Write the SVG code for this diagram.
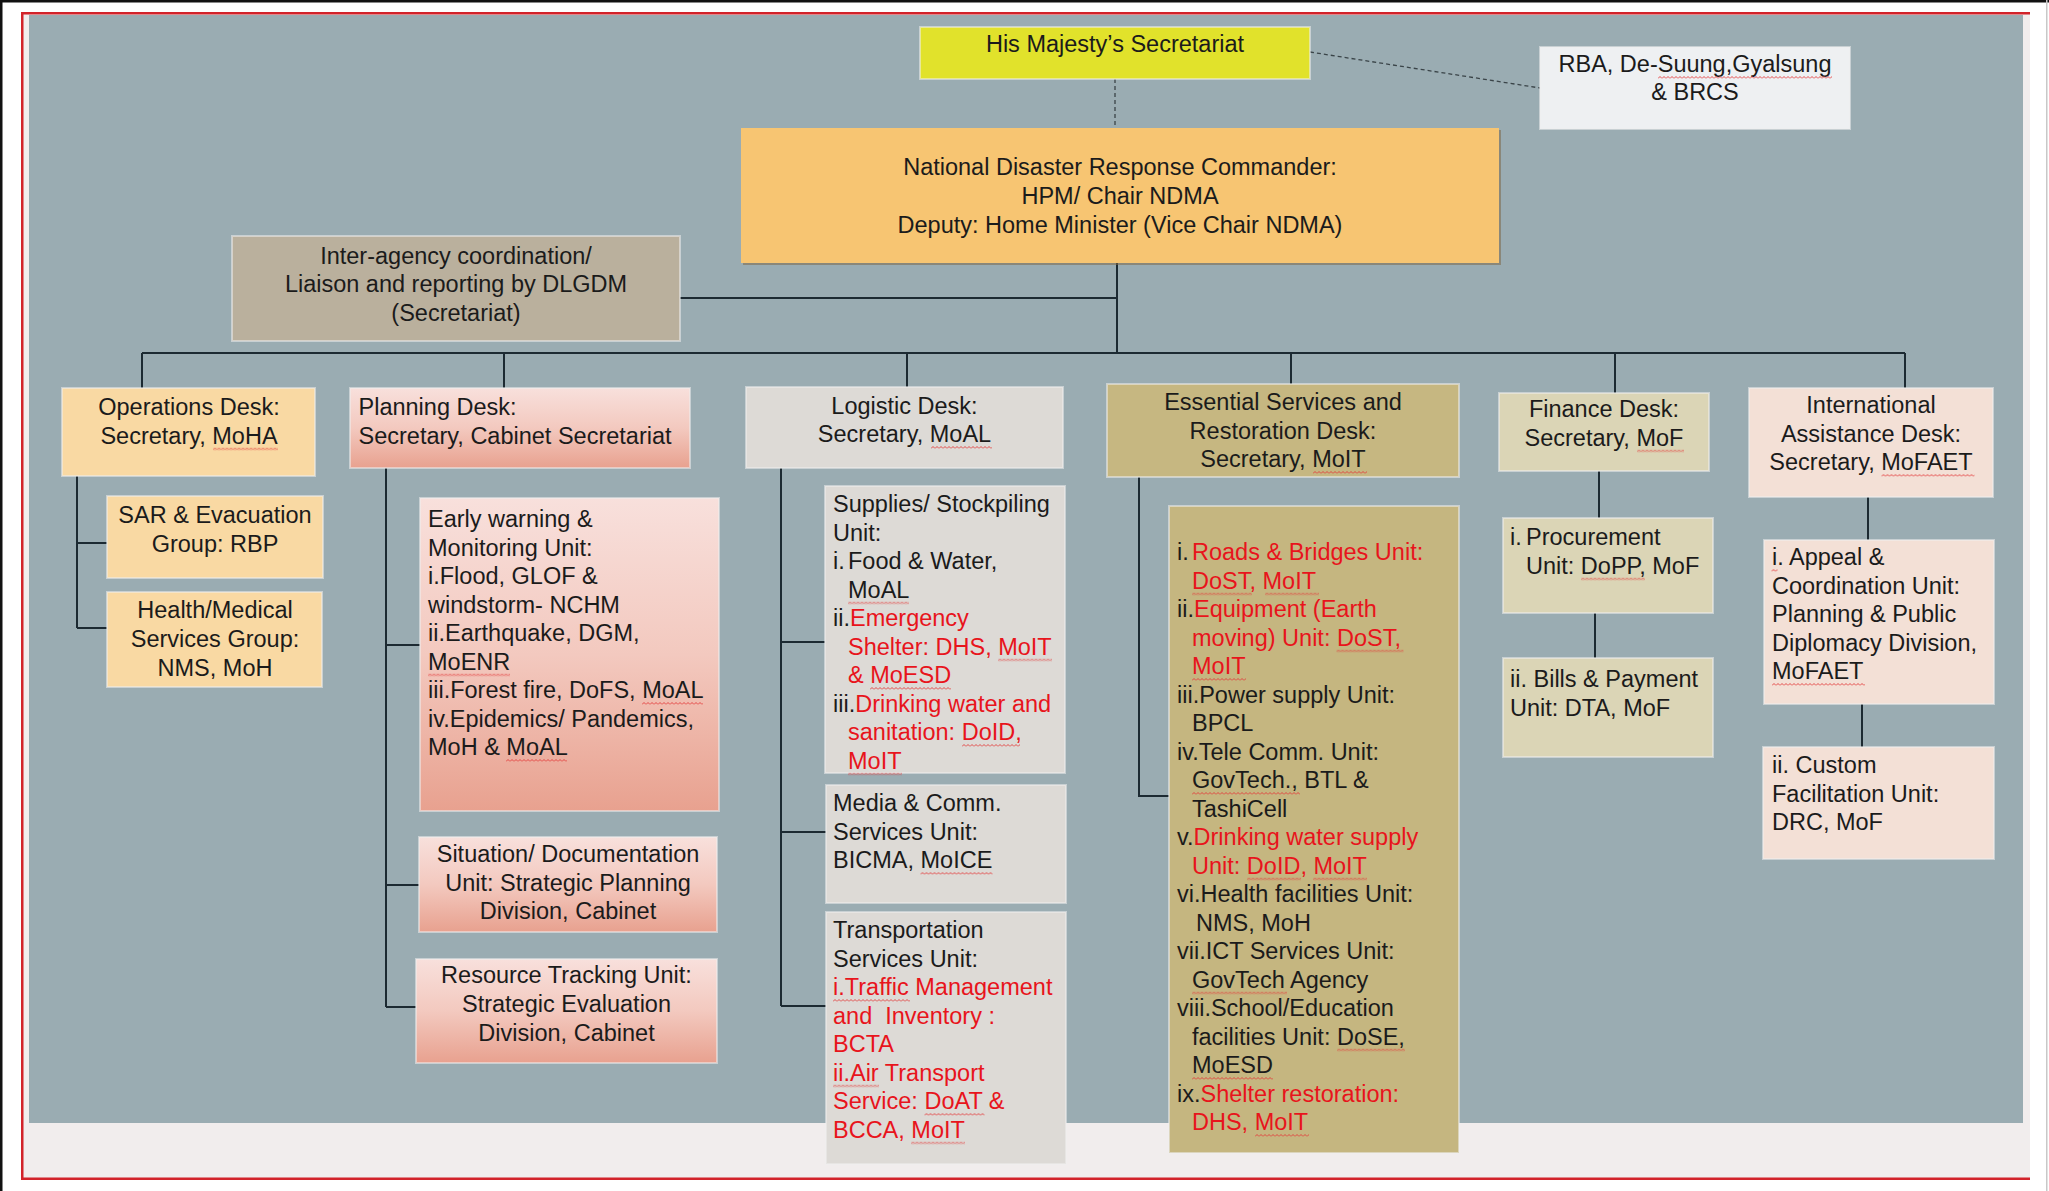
<svg xmlns="http://www.w3.org/2000/svg" width="2049" height="1191" viewBox="0 0 2049 1191">
<defs>
<style>
text{font-family:"Liberation Sans",Arial,sans-serif;font-size:23.5px;fill:#1b1b1b}
.m{text-anchor:middle}
.r{fill:#e8141c}
.bx{stroke:#eeeeee;stroke-opacity:.55;stroke-width:2}
.ln{stroke:#1c2a32;stroke-width:2;fill:none}
.dl{stroke:#3a4448;stroke-width:1.3;stroke-dasharray:4 3;fill:none}
.wv{fill:url(#wv)}
</style>
<pattern id="wv" patternUnits="userSpaceOnUse" width="4" height="3">
<path d="M0,2.5 L2,0.5 L4,2.5" fill="none" stroke="#e33a3a" stroke-width="0.9"/>
</pattern>
<linearGradient id="pink" x1="0" y1="0" x2="0" y2="1">
<stop offset="0" stop-color="#f8e0dc"/>
<stop offset="0.5" stop-color="#f3c9bf"/>
<stop offset="1" stop-color="#e8a18f"/>
</linearGradient>
</defs>
<rect width="2049" height="1191" fill="#ffffff"/>
<rect x="0" y="0" width="2049" height="2.5" fill="#111"/>
<rect x="0" y="0" width="2.5" height="1191" fill="#111"/>
<rect x="2046" y="0" width="1.5" height="1191" fill="#c8c8c8"/>
<rect x="21" y="12" width="2009" height="1168" fill="#f1eded"/>
<rect x="21" y="12" width="2009" height="2.5" fill="#d2232a"/>
<rect x="21" y="12" width="2.5" height="1168" fill="#d2232a"/>
<rect x="21" y="1177.5" width="2009" height="2.5" fill="#d2232a"/>
<rect x="29" y="15" width="1994" height="1108" fill="#9aacb2"/>

<g id="connectors">
<line class="dl" x1="1115" y1="79" x2="1115" y2="128"/>
<line class="dl" x1="1310" y1="52" x2="1540" y2="88"/>
<path class="ln" d="M1117,263 V353 M680,298 H1117 M142,353 H1905"/>
<path class="ln" d="M142,353 V388 M504,353 V388 M907,353 V387 M1291,353 V384 M1615,353 V393 M1905,353 V388"/>
<path class="ln" d="M77,476 V628 M77,543 H107 M77,628 H107"/>
<path class="ln" d="M386,468 V1007 M386,645 H420 M386,885 H419 M386,1007 H424"/>
<path class="ln" d="M781,468 V1006 M781,642 H825 M781,832 H826 M781,1006 H826"/>
<path class="ln" d="M1139,477 V796 H1169"/>
<path class="ln" d="M1599,471 V518 M1595,613 V658"/>
<path class="ln" d="M1868,497 V540 M1862,704 V747"/>
</g>

<g id="hm">
<rect class="bx" x="920" y="27" width="390" height="52" fill="#e1e22b"/>
<text class="m" x="1115" y="52">His Majesty’s Secretariat</text>
</g>
<g id="rba">
<rect class="bx" x="1540" y="47" width="310" height="82" fill="#eef0f2"/>
<text class="m" x="1695" y="72">RBA, De-Suung,Gyalsung</text>
<text class="m" x="1695" y="100">&amp; BRCS</text>
<rect class="wv" width="174" height="3" transform="translate(1658,76)"/>
</g>
<g id="ndrc">
<rect x="743" y="130" width="758" height="135" fill="#7d6a4a" opacity="0.55"/>
<rect x="741" y="128" width="758" height="135" fill="#f7c572"/>
<text class="m" x="1120" y="175">National Disaster Response Commander:</text>
<text class="m" x="1120" y="204">HPM/ Chair NDMA</text>
<text class="m" x="1120" y="233">Deputy: Home Minister (Vice Chair NDMA)</text>
</g>
<g id="interagency">
<rect class="bx" x="232" y="236" width="448" height="105" fill="#bab09d"/>
<text class="m" x="456" y="263.5">Inter-agency coordination/</text>
<text class="m" x="456" y="292">Liaison and reporting by DLGDM</text>
<text class="m" x="456" y="320.5">(Secretariat)</text>
</g>

<g id="ops">
<rect class="bx" x="62" y="388" width="253" height="88" fill="#f9d9a3"/>
<text class="m" x="189" y="415">Operations Desk:</text>
<text class="m" x="189" y="443.5">Secretary, MoHA</text>
<rect class="wv" width="65" height="3" transform="translate(213,447.5)"/>
</g>
<g id="sar">
<rect class="bx" x="107" y="496" width="216" height="82" fill="#f9d9a3"/>
<text class="m" x="215" y="523">SAR &amp; Evacuation</text>
<text class="m" x="215" y="551.5">Group: RBP</text>
</g>
<g id="health">
<rect class="bx" x="107" y="592" width="215" height="95" fill="#f9d9a3"/>
<text class="m" x="215" y="618">Health/Medical</text>
<text class="m" x="215" y="647">Services Group:</text>
<text class="m" x="215" y="676">NMS, MoH</text>
</g>

<g id="planning">
<rect class="bx" x="350" y="388" width="340" height="80" fill="url(#pink)"/>
<text x="358.5" y="415">Planning Desk:</text>
<text x="358.5" y="443.5">Secretary, Cabinet Secretariat</text>
</g>
<g id="earlywarning">
<rect class="bx" x="420" y="498" width="299" height="313" fill="url(#pink)"/>
<text x="428" y="527">Early warning &amp;</text>
<text x="428" y="555.5">Monitoring Unit:</text>
<text x="428" y="584">i.Flood, GLOF &amp;</text>
<text x="428" y="612.5">windstorm- NCHM</text>
<text x="428" y="641">ii.Earthquake, DGM,</text>
<text x="428" y="669.5">MoENR</text>
<text x="428" y="698">iii.Forest fire, DoFS, MoAL</text>
<text x="428" y="726.5">iv.Epidemics/ Pandemics,</text>
<text x="428" y="755">MoH &amp; MoAL</text>
<rect class="wv" width="82" height="3" transform="translate(428,673.5)"/>
<rect class="wv" width="61" height="3" transform="translate(642,702)"/>
<rect class="wv" width="61" height="3" transform="translate(506,759)"/>
</g>
<g id="situation">
<rect class="bx" x="419" y="837" width="298" height="95" fill="url(#pink)"/>
<text class="m" x="568" y="862">Situation/ Documentation</text>
<text class="m" x="568" y="890.5">Unit: Strategic Planning</text>
<text class="m" x="568" y="919">Division, Cabinet</text>
</g>
<g id="resource">
<rect class="bx" x="416" y="959" width="301" height="104" fill="url(#pink)"/>
<text class="m" x="566.5" y="983">Resource Tracking Unit:</text>
<text class="m" x="566.5" y="1012">Strategic Evaluation</text>
<text class="m" x="566.5" y="1040.5">Division, Cabinet</text>
</g>

<g id="logistic">
<rect class="bx" x="746" y="387" width="317" height="81" fill="#dddad6"/>
<text class="m" x="904.5" y="413.5">Logistic Desk:</text>
<text class="m" x="904.5" y="442">Secretary, MoAL</text>
<rect class="wv" width="61" height="3" transform="translate(931,446)"/>
</g>
<g id="supplies">
<rect class="bx" x="825" y="486" width="240" height="287" fill="#dddad6"/>
<text x="833" y="512">Supplies/ Stockpiling</text>
<text x="833" y="540.5">Unit:</text>
<text x="833" y="569">i.</text><text x="848" y="569">Food &amp; Water,</text>
<text x="848" y="597.5">MoAL</text>
<text x="833" y="626">ii.<tspan class="r">Emergency</tspan></text>
<text class="r" x="848" y="654.5">Shelter: DHS, MoIT</text>
<text class="r" x="848" y="683">&amp; MoESD</text>
<text x="833" y="711.5">iii.<tspan class="r">Drinking water and</tspan></text>
<text class="r" x="848" y="740">sanitation: DoID,</text>
<text class="r" x="848" y="768.5">MoIT</text>
<rect class="wv" width="61" height="3" transform="translate(848,601.5)"/>
<rect class="wv" width="54" height="3" transform="translate(998,658.5)"/>
<rect class="wv" width="81" height="3" transform="translate(870,687)"/>
<rect class="wv" width="58" height="3" transform="translate(962,744)"/>
<rect class="wv" width="54" height="3" transform="translate(848,772.5)"/>
</g>
<g id="media">
<rect class="bx" x="826" y="785" width="240" height="118" fill="#dddad6"/>
<text x="833" y="811">Media &amp; Comm.</text>
<text x="833" y="839.5">Services Unit:</text>
<text x="833" y="868">BICMA, MoICE</text>
<rect class="wv" width="72" height="3" transform="translate(920.5,872)"/>
</g>
<g id="transport">
<rect class="bx" x="826" y="912" width="240" height="252" fill="#dddad6"/>
<text x="833" y="938">Transportation</text>
<text x="833" y="966.5">Services Unit:</text>
<text class="r" x="833" y="995">i.Traffic Management</text>
<text class="r" x="833" y="1023.5">and&#160; Inventory :</text>
<text class="r" x="833" y="1052">BCTA</text>
<text class="r" x="833" y="1080.5">ii.Air Transport</text>
<text class="r" x="833" y="1109">Service: DoAT &amp;</text>
<text class="r" x="833" y="1137.5">BCCA, MoIT</text>
<rect class="wv" width="77" height="3" transform="translate(833,999)"/>
<rect class="wv" width="46" height="3" transform="translate(833,1084.5)"/>
<rect class="wv" width="60" height="3" transform="translate(924.5,1113)"/>
<rect class="wv" width="54" height="3" transform="translate(911,1141.5)"/>
</g>

<g id="essential">
<rect class="bx" x="1107" y="384" width="352" height="93" fill="#c6b781"/>
<text class="m" x="1283" y="410">Essential Services and</text>
<text class="m" x="1283" y="438.5">Restoration Desk:</text>
<text class="m" x="1283" y="467">Secretary, MoIT</text>
<rect class="wv" width="54" height="3" transform="translate(1313,471)"/>
</g>
<g id="essentialunits">
<rect class="bx" x="1169" y="506" width="290" height="647" fill="#c5b680"/>
<text x="1177" y="560">i.</text><text class="r" x="1192" y="560">Roads &amp; Bridges Unit:</text>
<text class="r" x="1192" y="588.5">DoST, MoIT</text>
<text x="1177" y="617">ii.<tspan class="r">Equipment (Earth</tspan></text>
<text class="r" x="1192" y="645.5">moving) Unit: DoST,</text>
<text class="r" x="1192" y="674">MoIT</text>
<text x="1177" y="702.5">iii.Power supply Unit:</text>
<text x="1192" y="731">BPCL</text>
<text x="1177" y="759.5">iv.Tele Comm. Unit:</text>
<text x="1192" y="788">GovTech., BTL &amp;</text>
<text x="1192" y="816.5">TashiCell</text>
<text x="1177" y="845">v.<tspan class="r">Drinking water supply</tspan></text>
<text class="r" x="1192" y="873.5">Unit: DoID, MoIT</text>
<text x="1177" y="902">vi.Health facilities Unit:</text>
<text x="1196" y="930.5">NMS, MoH</text>
<text x="1177" y="959">vii.ICT Services Unit:</text>
<text x="1192" y="987.5">GovTech Agency</text>
<text x="1177" y="1016">viii.School/Education</text>
<text x="1192" y="1044.5">facilities Unit: DoSE,</text>
<text x="1192" y="1073">MoESD</text>
<text x="1177" y="1101.5">ix.<tspan class="r">Shelter restoration:</tspan></text>
<text class="r" x="1192" y="1130">DHS, MoIT</text>
<rect class="wv" width="60" height="3" transform="translate(1192,592.5)"/>
<rect class="wv" width="54" height="3" transform="translate(1265,592.5)"/>
<rect class="wv" width="67" height="3" transform="translate(1336.5,649.5)"/>
<rect class="wv" width="54" height="3" transform="translate(1192,678)"/>
<rect class="wv" width="108" height="3" transform="translate(1192,792)"/>
<rect class="wv" width="54" height="3" transform="translate(1247,877.5)"/>
<rect class="wv" width="54" height="3" transform="translate(1313,877.5)"/>
<rect class="wv" width="95" height="3" transform="translate(1192,991.5)"/>
<rect class="wv" width="68" height="3" transform="translate(1337,1048.5)"/>
<rect class="wv" width="81" height="3" transform="translate(1192,1077)"/>
<rect class="wv" width="54" height="3" transform="translate(1255,1134)"/>
</g>

<g id="finance">
<rect class="bx" x="1499" y="393" width="210" height="78" fill="#dbd5b6"/>
<text class="m" x="1604" y="417">Finance Desk:</text>
<text class="m" x="1604" y="445.5">Secretary, MoF</text>
<rect class="wv" width="47" height="3" transform="translate(1637,449.5)"/>
</g>
<g id="procurement">
<rect class="bx" x="1503" y="518" width="210" height="95" fill="#dbd5b6"/>
<text x="1510" y="545">i.</text><text x="1526" y="545">Procurement</text>
<text x="1526" y="573.5">Unit: DoPP, MoF</text>
<rect class="wv" width="64" height="3" transform="translate(1581,577.5)"/>
</g>
<g id="bills">
<rect class="bx" x="1503" y="658" width="210" height="99" fill="#dbd5b6"/>
<text x="1510" y="687">ii. Bills &amp; Payment</text>
<text x="1510" y="715.5">Unit: DTA, MoF</text>
</g>

<g id="international">
<rect class="bx" x="1749" y="388" width="244" height="109" fill="#f3e0d6"/>
<text class="m" x="1871" y="413">International</text>
<text class="m" x="1871" y="441.5">Assistance Desk:</text>
<text class="m" x="1871" y="470">Secretary, MoFAET</text>
<rect class="wv" width="93" height="3" transform="translate(1881.5,474)"/>
</g>
<g id="appeal">
<rect class="bx" x="1764" y="540" width="230" height="164" fill="#f3e0d6"/>
<text x="1772" y="565">i. Appeal &amp;</text>
<text x="1772" y="593.5">Coordination Unit:</text>
<text x="1772" y="622">Planning &amp; Public</text>
<text x="1772" y="650.5">Diplomacy Division,</text>
<text x="1772" y="679">MoFAET</text>
<rect class="wv" width="6" height="3" transform="translate(1771.5,569)"/>
<rect class="wv" width="93" height="3" transform="translate(1772,683)"/>
</g>
<g id="custom">
<rect class="bx" x="1763" y="747" width="231" height="112" fill="#f3e0d6"/>
<text x="1772" y="773">ii. Custom</text>
<text x="1772" y="801.5">Facilitation Unit:</text>
<text x="1772" y="830">DRC, MoF</text>
</g>
</svg>
